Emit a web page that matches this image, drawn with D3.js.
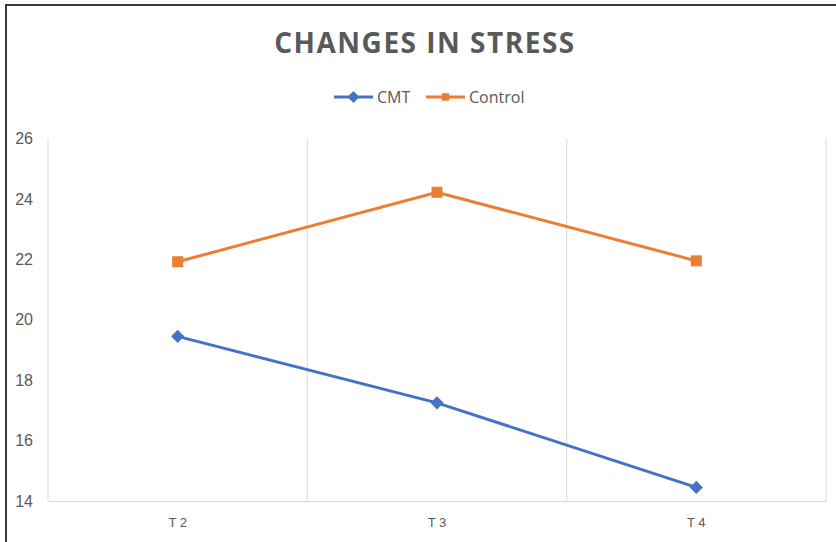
<!DOCTYPE html>
<html>
<head>
<meta charset="utf-8">
<script src="https://cdn.jsdelivr.net/npm/d3@7"></script>
<style>
  body { margin: 0; background: #fff; }
  svg { display: block; font-family: "Open Sans", "Liberation Sans", sans-serif; }
</style>
</head>
<body>
<svg id="chart" width="836" height="542"></svg>
<script>
// data
var categories = ['T2', 'T3', 'T4'];
var cmtValues = [19.45, 17.25, 14.45];
var controlValues = [21.92, 24.22, 21.95];
var yTicks = [14, 16, 18, 20, 22, 24, 26];

var svg = d3.select('#chart');
var W = 836, H = 542;
var plot = { left: 48, right: 826, top: 138.5, bottom: 501 };

// cadre (bords haut et gauche)
svg.append('line').attr('x1', 5).attr('x2', W).attr('y1', 5).attr('y2', 5)
  .attr('stroke', '#3a3a3a').attr('stroke-width', 2);
svg.append('line').attr('x1', 6).attr('x2', 6).attr('y1', 4).attr('y2', H)
  .attr('stroke', '#3a3a3a').attr('stroke-width', 2);

var x = d3.scaleBand().domain(categories).range([plot.left, plot.right]).padding(0);
var y = d3.scaleLinear().domain([14, 26]).range([plot.bottom, plot.top]);

// grille verticale aux limites des categories
var bounds = categories.map(function (c) { return x(c); }).concat([plot.right]);
svg.append('g').selectAll('line').data(bounds).enter().append('line')
  .attr('x1', function (d) { return d; }).attr('x2', function (d) { return d; })
  .attr('y1', plot.top).attr('y2', plot.bottom)
  .attr('stroke', '#d9d9d9').attr('stroke-width', 1);

// axe X
var xAxis = svg.append('g').attr('transform', 'translate(0,' + plot.bottom + ')')
  .call(d3.axisBottom(x).tickSize(0).tickPadding(17).tickFormat(function (d) { return d.replace('T', 'T '); }));
xAxis.select('.domain').attr('stroke', '#d9d9d9');
xAxis.selectAll('text').attr('fill', '#595959').attr('font-size', 13);

// axe Y
var yAxis = svg.append('g').attr('transform', 'translate(33,0)')
  .call(d3.axisLeft(y).tickValues(yTicks).tickSize(0).tickPadding(0));
yAxis.select('.domain').remove();
yAxis.selectAll('text').attr('fill', '#595959').attr('font-size', 16);

function cx(d, i) { return x(categories[i]) + x.bandwidth() / 2; }

var line = d3.line().x(function (d, i) { return cx(d, i); }).y(function (d) { return y(d); });

// Control
svg.append('path').datum(controlValues).attr('d', line)
  .attr('fill', 'none').attr('stroke', '#ed7d31').attr('stroke-width', 3);
svg.append('g').selectAll('rect').data(controlValues).enter().append('rect')
  .attr('x', function (d, i) { return cx(d, i) - 5.5; })
  .attr('y', function (d) { return y(d) - 5.5; })
  .attr('width', 11).attr('height', 11).attr('fill', '#ed7d31');

// CMT
svg.append('path').datum(cmtValues).attr('d', line)
  .attr('fill', 'none').attr('stroke', '#4472c4').attr('stroke-width', 3);
svg.append('g').selectAll('path').data(cmtValues).enter().append('path')
  .attr('d', d3.symbol().type(d3.symbolDiamond2).size(110))
  .attr('transform', function (d, i) { return 'translate(' + cx(d, i) + ',' + y(d) + ')'; })
  .attr('fill', '#4472c4');

// titre
svg.append('text').attr('x', 425).attr('y', 53).attr('text-anchor', 'middle')
  .attr('font-size', 28).attr('font-weight', 'bold').attr('letter-spacing', 1.5)
  .attr('fill', '#595959').text('CHANGES IN STRESS');

// legende
var legend = [
  { name: 'CMT', color: '#4472c4', x: 334, sym: 'diamond' },
  { name: 'Control', color: '#ed7d31', x: 426, sym: 'square' }
];
var lg = svg.append('g').selectAll('g').data(legend).enter().append('g')
  .attr('transform', function (d) { return 'translate(' + d.x + ',97)'; });
lg.append('line').attr('x1', 0).attr('x2', 39).attr('y1', 0).attr('y2', 0)
  .attr('stroke', function (d) { return d.color; }).attr('stroke-width', 3);
lg.append('path')
  .attr('d', function (d) {
    return d3.symbol().type(d.sym === 'diamond' ? d3.symbolDiamond2 : d3.symbolSquare2).size(d.sym === 'diamond' ? 90 : 70)();
  })
  .attr('transform', 'translate(19.5,0)')
  .attr('fill', function (d) { return d.color; });
lg.append('text').attr('x', 43).attr('y', 6).attr('font-size', 16).attr('fill', '#595959')
  .text(function (d) { return d.name; });
</script>
</body>
</html>
